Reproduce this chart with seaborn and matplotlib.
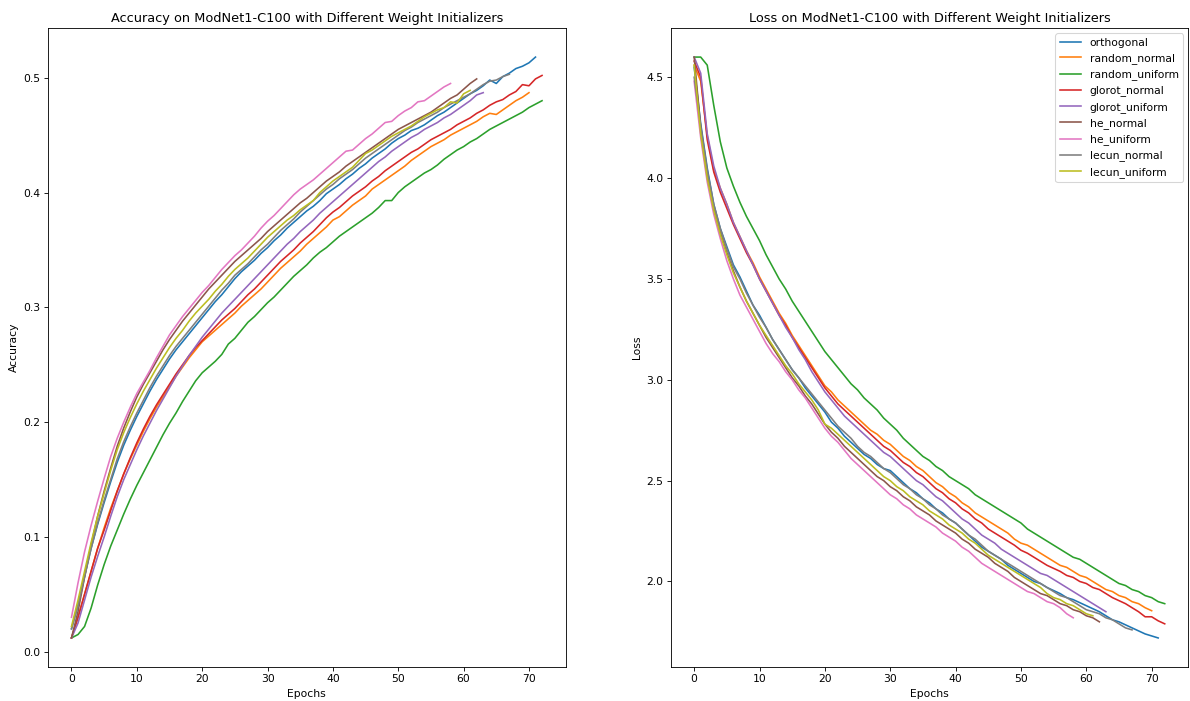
import pandas as pd
import matplotlib
matplotlib.use('Agg')
import matplotlib.pyplot as plt
import seaborn as sns

# Weight initializers compared (legend order)
initializers = ['orthogonal', 'random_normal', 'random_uniform', 'glorot_normal', 'glorot_uniform',
                'he_normal', 'he_uniform', 'lecun_normal', 'lecun_uniform']

# Accuracy per epoch
acc_orthogonal = [.020, .041, .066, .090, .111, .130, .148, .165, .180, .193, .205, .216, .227, .237, .246, .255,
                  .263, .270, .277, .284, .291, .298, .305, .311, .318, .325, .331, .336, .341, .347, .352, .358,
                  .363, .369, .374, .379, .384, .388, .393, .399, .403, .407, .412, .416, .421, .425, .430, .434,
                  .438, .443, .447, .450, .454, .456, .459, .463, .467, .470, .474, .478, .482, .486, .489, .493,
                  .498, .495, .501, .504, .508, .510, .513, .518]
acc_random_normal = [.012, .030, .050, .070, .090, .108, .125, .140, .155, .168, .180, .192, .203, .213, .222, .231,
                     .240, .248, .256, .263, .270, .275, .280, .285, .290, .295, .301, .306, .311, .316, .322, .328,
                     .334, .339, .344, .349, .355, .360, .365, .370, .376, .379, .384, .389, .393, .397, .403, .407,
                     .411, .415, .419, .423, .428, .432, .436, .440, .443, .446, .450, .453, .456, .459, .462, .466,
                     .469, .468, .472, .476, .480, .483, .487]
acc_random_uniform = [.012, .015, .022, .038, .058, .076, .092, .106, .120, .133, .145, .156, .167, .178, .189, .199,
                      .208, .218, .227, .236, .243, .248, .253, .259, .268, .273, .280, .287, .292, .298, .304, .309,
                      .315, .321, .327, .332, .337, .343, .348, .352, .357, .362, .366, .370, .374, .378, .382, .387,
                      .393, .393, .400, .405, .409, .413, .417, .420, .424, .429, .433, .437, .440, .444, .447, .451,
                      .455, .458, .461, .464, .467, .470, .474, .477, .480]
acc_glorot_normal = [.012, .030, .050, .070, .090, .106, .123, .140, .155, .169, .182, .194, .205, .215, .224, .233,
                     .242, .250, .258, .265, .271, .277, .283, .289, .294, .299, .305, .311, .316, .322, .328, .334,
                     .340, .345, .350, .356, .361, .366, .372, .378, .383, .387, .392, .397, .401, .405, .410, .414,
                     .419, .423, .427, .431, .435, .438, .442, .446, .449, .452, .455, .459, .462, .465, .469, .472,
                     .476, .479, .481, .485, .488, .494, .493, .499, .502]
acc_glorot_uniform = [.012, .025, .045, .065, .083, .100, .118, .135, .150, .163, .176, .188, .199, .210, .220, .230,
                      .240, .249, .258, .266, .274, .281, .288, .295, .301, .307, .313, .319, .325, .331, .337, .343,
                      .349, .355, .360, .366, .371, .376, .382, .387, .392, .397, .402, .407, .412, .417, .422, .427,
                      .431, .436, .440, .444, .448, .451, .455, .458, .461, .465, .468, .472, .476, .480, .485, .487]
acc_he_normal = [.012, .035, .065, .093, .118, .140, .160, .179, .195, .209, .222, .233, .243, .253, .263, .272,
                 .280, .288, .295, .302, .309, .316, .322, .328, .334, .340, .345, .350, .355, .360, .366, .371,
                 .376, .381, .386, .391, .395, .400, .405, .410, .414, .418, .423, .427, .431, .435, .439, .443,
                 .447, .451, .455, .458, .461, .464, .467, .470, .474, .478, .482, .485, .490, .495, .499]
acc_he_uniform = [.030, .060, .087, .110, .131, .151, .170, .186, .200, .213, .225, .235, .245, .256, .266, .276,
                  .284, .292, .299, .306, .313, .319, .326, .333, .339, .345, .350, .356, .362, .369, .375, .380,
                  .386, .392, .398, .403, .407, .411, .416, .421, .426, .431, .436, .437, .442, .447, .451, .456,
                  .461, .462, .467, .471, .474, .479, .480, .484, .488, .492, .495]
acc_lecun_normal = [.020, .040, .065, .090, .112, .132, .150, .168, .183, .196, .208, .219, .230, .240, .249, .258,
                    .266, .273, .280, .287, .294, .301, .308, .315, .321, .328, .333, .338, .344, .350, .355, .361,
                    .367, .372, .377, .383, .388, .393, .398, .403, .407, .412, .416, .420, .425, .430, .434, .438,
                    .442, .446, .450, .454, .457, .461, .464, .467, .470, .474, .477, .480, .483, .486, .490, .494,
                    .497, .498, .501, .503]
acc_lecun_uniform = [.022, .045, .070, .095, .118, .138, .158, .176, .191, .204, .216, .227, .237, .247, .256, .265,
                     .273, .280, .288, .295, .301, .307, .314, .320, .327, .333, .338, .343, .349, .355, .361, .366,
                     .371, .376, .380, .385, .389, .393, .400, .405, .410, .414, .418, .422, .428, .434, .437, .441,
                     .445, .449, .452, .455, .458, .462, .466, .469, .472, .474, .479, .478, .486, .489]

# Loss per epoch
loss_orthogonal = [4.55, 4.27, 4.05, 3.87, 3.75, 3.66, 3.57, 3.51, 3.44, 3.37, 3.32, 3.26, 3.20, 3.15, 3.10, 3.05,
                   3.01, 2.96, 2.92, 2.88, 2.84, 2.79, 2.76, 2.72, 2.69, 2.66, 2.63, 2.61, 2.58, 2.56, 2.55, 2.52,
                   2.49, 2.46, 2.44, 2.41, 2.39, 2.36, 2.34, 2.31, 2.29, 2.26, 2.23, 2.20, 2.17, 2.15, 2.13, 2.11,
                   2.08, 2.06, 2.04, 2.02, 2.00, 1.99, 1.97, 1.955, 1.94, 1.92, 1.91, 1.895, 1.88, 1.865, 1.85,
                   1.83, 1.81, 1.80, 1.785, 1.77, 1.755, 1.74, 1.73, 1.72]
loss_random_normal = [4.56, 4.48, 4.21, 4.04, 3.95, 3.87, 3.78, 3.71, 3.64, 3.58, 3.51, 3.45, 3.39, 3.33, 3.28, 3.22,
                      3.17, 3.12, 3.07, 3.02, 2.97, 2.94, 2.90, 2.87, 2.84, 2.81, 2.78, 2.75, 2.73, 2.70, 2.68, 2.65,
                      2.62, 2.60, 2.57, 2.55, 2.52, 2.49, 2.47, 2.44, 2.42, 2.39, 2.37, 2.34, 2.32, 2.30, 2.28, 2.26,
                      2.24, 2.21, 2.19, 2.18, 2.16, 2.14, 2.12, 2.10, 2.08, 2.07, 2.05, 2.03, 2.02, 2.00, 1.98, 1.96,
                      1.95, 1.93, 1.92, 1.90, 1.89, 1.87, 1.855]
loss_random_uniform = [4.60, 4.60, 4.56, 4.36, 4.18, 4.05, 3.96, 3.88, 3.81, 3.75, 3.69, 3.62, 3.56, 3.50, 3.45, 3.39,
                       3.34, 3.29, 3.24, 3.19, 3.14, 3.10, 3.06, 3.02, 2.98, 2.95, 2.91, 2.88, 2.85, 2.81, 2.78, 2.75,
                       2.71, 2.68, 2.65, 2.62, 2.60, 2.57, 2.55, 2.52, 2.50, 2.48, 2.46, 2.43, 2.41, 2.39, 2.37, 2.35,
                       2.33, 2.31, 2.29, 2.26, 2.24, 2.22, 2.20, 2.18, 2.16, 2.14, 2.12, 2.11, 2.09, 2.07, 2.05, 2.03,
                       2.01, 1.99, 1.98, 1.96, 1.95, 1.93, 1.92, 1.90, 1.89]
loss_glorot_normal = [4.58, 4.50, 4.19, 4.03, 3.93, 3.85, 3.77, 3.70, 3.63, 3.57, 3.50, 3.44, 3.38, 3.32, 3.27, 3.21,
                      3.16, 3.11, 3.06, 3.01, 2.96, 2.92, 2.88, 2.85, 2.82, 2.79, 2.76, 2.73, 2.70, 2.67, 2.65, 2.62,
                      2.59, 2.57, 2.54, 2.52, 2.49, 2.46, 2.44, 2.41, 2.39, 2.36, 2.34, 2.31, 2.29, 2.26, 2.24, 2.22,
                      2.20, 2.18, 2.155, 2.14, 2.12, 2.10, 2.08, 2.065, 2.05, 2.03, 2.02, 2.00, 1.99, 1.97, 1.96,
                      1.94, 1.92, 1.905, 1.89, 1.87, 1.85, 1.825, 1.825, 1.805, 1.79]
loss_glorot_uniform = [4.60, 4.52, 4.22, 4.06, 3.95, 3.87, 3.78, 3.71, 3.64, 3.57, 3.50, 3.44, 3.38, 3.32, 3.26, 3.21,
                       3.15, 3.10, 3.04, 2.99, 2.94, 2.90, 2.86, 2.82, 2.79, 2.76, 2.73, 2.70, 2.67, 2.64, 2.62, 2.59,
                       2.56, 2.53, 2.50, 2.48, 2.45, 2.42, 2.40, 2.37, 2.34, 2.31, 2.29, 2.26, 2.23, 2.21, 2.19, 2.16,
                       2.14, 2.12, 2.10, 2.08, 2.06, 2.04, 2.03, 2.01, 1.99, 1.97, 1.95, 1.93, 1.91, 1.89, 1.87, 1.85]
loss_he_normal = [4.60, 4.25, 4.02, 3.85, 3.73, 3.63, 3.54, 3.46, 3.39, 3.33, 3.27, 3.21, 3.16, 3.11, 3.06, 3.01,
                  2.97, 2.92, 2.88, 2.83, 2.78, 2.74, 2.71, 2.67, 2.64, 2.61, 2.58, 2.55, 2.52, 2.50, 2.47, 2.45,
                  2.42, 2.40, 2.37, 2.35, 2.33, 2.30, 2.28, 2.26, 2.24, 2.21, 2.19, 2.16, 2.14, 2.12, 2.09, 2.07,
                  2.05, 2.02, 2.00, 1.98, 1.96, 1.94, 1.93, 1.91, 1.89, 1.88, 1.86, 1.85, 1.83, 1.82, 1.80]
loss_he_uniform = [4.48, 4.20, 3.98, 3.82, 3.70, 3.59, 3.50, 3.42, 3.36, 3.30, 3.24, 3.18, 3.13, 3.09, 3.04, 3.00,
                   2.95, 2.91, 2.86, 2.81, 2.76, 2.72, 2.69, 2.65, 2.61, 2.58, 2.55, 2.52, 2.49, 2.46, 2.43, 2.41,
                   2.38, 2.36, 2.33, 2.31, 2.29, 2.27, 2.24, 2.22, 2.20, 2.17, 2.15, 2.12, 2.09, 2.07, 2.05, 2.03,
                   2.01, 1.99, 1.97, 1.95, 1.94, 1.92, 1.90, 1.89, 1.87, 1.84, 1.82]
loss_lecun_normal = [4.50, 4.26, 4.04, 3.87, 3.75, 3.65, 3.56, 3.50, 3.43, 3.37, 3.31, 3.26, 3.20, 3.15, 3.10, 3.05,
                     3.01, 2.97, 2.93, 2.89, 2.85, 2.81, 2.77, 2.74, 2.71, 2.67, 2.64, 2.62, 2.59, 2.56, 2.54, 2.51,
                     2.48, 2.46, 2.43, 2.41, 2.38, 2.36, 2.33, 2.31, 2.29, 2.26, 2.23, 2.21, 2.18, 2.15, 2.13, 2.11,
                     2.09, 2.07, 2.05, 2.03, 2.01, 1.99, 1.97, 1.95, 1.93, 1.92, 1.90, 1.88, 1.86, 1.85, 1.84, 1.82,
                     1.81, 1.79, 1.77, 1.76]
loss_lecun_uniform = [4.56, 4.22, 4.00, 3.84, 3.72, 3.62, 3.53, 3.46, 3.39, 3.33, 3.27, 3.22, 3.17, 3.12, 3.07, 3.03,
                      2.98, 2.94, 2.90, 2.85, 2.78, 2.76, 2.73, 2.70, 2.67, 2.64, 2.61, 2.58, 2.55, 2.52, 2.50, 2.47,
                      2.45, 2.42, 2.40, 2.38, 2.35, 2.33, 2.31, 2.28, 2.26, 2.24, 2.21, 2.19, 2.16, 2.13, 2.11, 2.09,
                      2.07, 2.05, 2.03, 2.01, 1.99, 1.97, 1.94, 1.92, 1.91, 1.89, 1.88, 1.86, 1.84, 1.83]

acc_lists = [acc_orthogonal, acc_random_normal, acc_random_uniform, acc_glorot_normal, acc_glorot_uniform,
             acc_he_normal, acc_he_uniform, acc_lecun_normal, acc_lecun_uniform]
loss_lists = [loss_orthogonal, loss_random_normal, loss_random_uniform, loss_glorot_normal, loss_glorot_uniform,
              loss_he_normal, loss_he_uniform, loss_lecun_normal, loss_lecun_uniform]

# Long-format tables for seaborn
acc_rows = []
for name, vals in zip(initializers, acc_lists):
    for ep, v in enumerate(vals):
        acc_rows.append({'initializer': name, 'epoch': ep, 'accuracy': v})
acc_df = pd.DataFrame(acc_rows)

loss_rows = []
for name, vals in zip(initializers, loss_lists):
    for ep, v in enumerate(vals):
        loss_rows.append({'initializer': name, 'epoch': ep, 'loss': v})
loss_df = pd.DataFrame(loss_rows)

# the reference was drawn on a larger canvas and scaled down, so use a big figure at low dpi
fig, (ax1, ax2) = plt.subplots(1, 2, figsize=(15.455, 9.104), dpi=77)

sns.lineplot(data=acc_df, x='epoch', y='accuracy', hue='initializer', hue_order=initializers,
             palette='tab10', linewidth=1.5, legend=False, ax=ax1)
ax1.set_title('Accuracy on ModNet1-C100 with Different Weight Initializers')
ax1.set_xlabel('Epochs')
ax1.set_ylabel('Accuracy')

sns.lineplot(data=loss_df, x='epoch', y='loss', hue='initializer', hue_order=initializers,
             palette='tab10', linewidth=1.5, ax=ax2)
ax2.set_title('Loss on ModNet1-C100 with Different Weight Initializers')
ax2.set_xlabel('Epochs')
ax2.set_ylabel('Loss')
handles, labels = ax2.get_legend_handles_labels()
ax2.legend(handles, labels, loc='upper right')

fig.subplots_adjust(left=0.0403, right=0.9985, bottom=0.0485, top=0.96, wspace=0.203)
fig.savefig('out.png', dpi=77)
